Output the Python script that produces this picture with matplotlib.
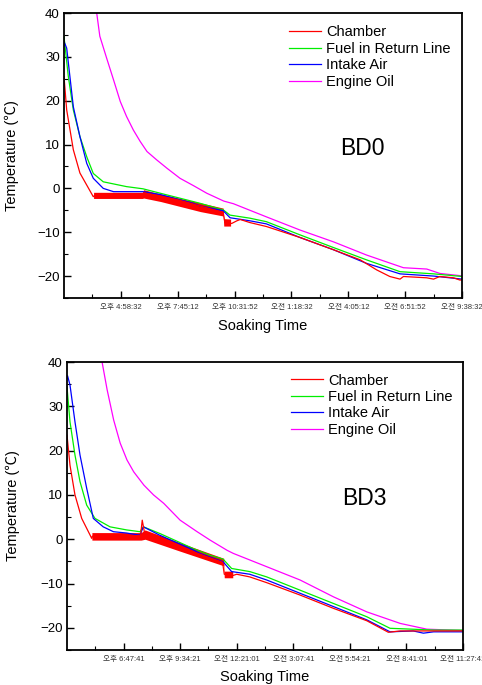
import numpy as np
import matplotlib
matplotlib.use('Agg')
import matplotlib.pyplot as plt

plt.rcParams['font.family'] = ['Liberation Sans', 'Noto Sans CJK KR', 'DejaVu Sans']

# elapsed soaking time in kiloseconds, temperatures in deg C
# ---- BD0 ----
bd0_chamber_t = [0, 0.47, 1.64, 2.8, 5.15, 5.5, 13.9, 14.0, 20.0, 25.0, 28.0, 28.3, 29.5,
                 30.4, 31.0, 32.7, 35.6, 41.5, 47.4, 52.1, 55.0, 57.3, 59.1, 59.7,
                 63.8, 65.0, 66.1, 68.5, 69.6, 70.0]
bd0_chamber = [25.5, 17.9, 8.8, 3.5, -1.9, -1.5, -1.5, -1.0, -2.6, -4.4, -5.5, -7.8, -8.0,
               -7.4, -7.1, -7.8, -8.7, -11.2, -14.0, -16.3, -18.6, -20.1, -20.7, -20.1,
               -20.4, -20.7, -20.1, -20.4, -20.9, -20.9]
bd0_band_t = [5.2, 13.8, 14.0, 17.0, 24.0, 28.0, 28.1, 29.3]
bd0_band_hi = [-0.9, -0.9, -0.3, -1.3, -3.3, -4.5, -6.9, -7.0]
bd0_band_lo = [-2.3, -2.3, -2.2, -3.0, -5.3, -6.3, -8.6, -8.6]

bd0_fuel_t = [0, 0.76, 1.64, 2.8, 4.0, 5.15, 6.9, 11.0, 13.9, 16.9, 22.7, 23.9, 28.0,
              29.2, 32.7, 35.6, 41.5, 47.4, 53.2, 59.1, 65.0, 70.0]
bd0_fuel = [34.6, 25.5, 17.9, 11.8, 7.2, 3.4, 1.5, 0.4, -0.1, -1.1, -3.0, -3.4, -4.9,
            -6.1, -6.8, -7.6, -10.6, -13.5, -16.3, -19.0, -19.5, -20.1]

bd0_intake_t = [0, 0.47, 1.64, 2.8, 4.0, 5.15, 6.9, 8.7, 13.9, 16.9, 22.7, 23.9, 28.0,
                29.2, 32.7, 35.6, 41.5, 47.4, 53.2, 59.1, 65.0, 70.0]
bd0_intake = [33.5, 32.0, 18.6, 11.8, 5.7, 2.3, 0.0, -0.75, -0.75, -1.4, -3.4, -4.0, -5.1,
              -6.7, -7.4, -8.1, -11.2, -14.0, -17.1, -19.5, -20.0, -20.7]

bd0_oil_t = [5.0, 5.75, 6.3, 7.5, 8.7, 9.9, 11.0, 12.2, 13.4, 14.6, 16.3, 18.1, 20.4,
             22.8, 25.1, 28.1, 29.8, 35.6, 41.5, 47.4, 53.2, 59.7, 63.8, 66.1, 69.6, 70.0]
bd0_oil = [45.0, 40.0, 34.7, 29.7, 24.8, 19.8, 16.4, 13.3, 10.7, 8.4, 6.5, 4.6, 2.3,
           0.6, -1.1, -2.9, -3.5, -6.5, -9.5, -12.2, -15.2, -18.1, -18.4, -19.4, -19.9, -20.0]

# ---- BD3 ----
bd3_chamber_t = [0, 0.53, 1.41, 2.6, 4.37, 4.5, 13.0, 13.3, 13.7, 14.0, 20.0, 27.5, 27.8,
                 29.3, 30.0, 32.3, 35.3, 41.2, 47.1, 53.0, 56.8, 58.9, 70.0]
bd3_chamber = [23.5, 16.7, 10.0, 4.7, 0.2, 0.7, 0.8, 4.3, 1.5, 1.0, -1.8, -5.2, -7.9,
               -8.2, -7.9, -8.5, -9.8, -12.6, -15.6, -18.4, -21.0, -20.7, -20.7]
bd3_band_t = [4.4, 13.1, 13.8, 20.0, 27.7, 27.8, 29.3]
bd3_band_hi = [1.5, 1.5, 2.1, -0.8, -4.3, -7.2, -7.2]
bd3_band_lo = [-0.2, -0.2, 0.0, -2.7, -6.0, -8.7, -8.7]

bd3_fuel_t = [0, 0.53, 1.41, 2.3, 3.48, 4.95, 7.6, 10.55, 12.9, 13.5, 16.4, 22.3, 25.3,
              27.6, 29.1, 32.3, 35.3, 41.2, 47.1, 53.0, 57.1, 64.8, 70.0]
bd3_fuel = [34.4, 26.5, 19.0, 13.0, 7.7, 4.7, 2.8, 2.1, 1.7, 2.8, 1.3, -2.1, -3.6,
            -4.5, -6.6, -7.3, -8.5, -11.5, -14.5, -17.5, -20.1, -20.5, -20.5]

bd3_intake_t = [0, 0.1, 0.53, 1.41, 2.3, 3.48, 4.65, 6.4, 8.2, 10.55, 12.9, 13.5, 16.4,
                22.3, 23.5, 27.6, 29.1, 32.3, 35.3, 41.2, 47.1, 53.0, 57.1, 61.2,
                63.0, 64.8, 70.0]
bd3_intake = [36.3, 36.9, 34.8, 26.5, 19.0, 11.5, 4.7, 2.8, 1.7, 1.4, 0.9, 2.8, 0.9,
              -2.4, -3.2, -5.1, -7.3, -7.9, -9.2, -12.2, -15.2, -18.2, -20.9, -20.7,
              -21.2, -20.9, -20.9]

bd3_oil_t = [5.4, 6.2, 7.1, 8.25, 9.4, 10.6, 11.8, 13.6, 15.3, 17.1, 20.0, 23.0, 25.3,
             28.3, 29.4, 35.3, 41.2, 47.1, 53.0, 58.9, 63.6, 70.0]
bd3_oil = [45.0, 40.0, 33.7, 26.9, 21.7, 17.9, 15.2, 12.2, 10.0, 8.1, 4.3, 1.7, -0.2,
           -2.5, -3.2, -6.2, -9.2, -13.0, -16.4, -19.0, -20.3, -20.6]

bd0_ticks = ['오후 4:58:32', '오후 7:45:12', '오후 10:31:52', '오전 1:18:32',
             '오전 4:05:12', '오전 6:51:52', '오전 9:38:32']
bd3_ticks = ['오후 6:47:41', '오후 9:34:21', '오전 12:21:01', '오전 3:07:41',
             '오전 5:54:21', '오전 8:41:01', '오전 11:27:41']

series_names = ['Chamber', 'Fuel in Return Line', 'Intake Air', 'Engine Oil']
colors = ['#ff0000', '#00ee00', '#0000ff', '#ff00ff']


def draw_panel(ax, data, band, ticks, tag, ylab_x, xlab_y, leg_y):
    chamber, fuel, intake, oil = data
    h_oil, = ax.plot(oil[0], oil[1], color=colors[3], lw=0.9)
    h_fuel, = ax.plot(fuel[0], fuel[1], color=colors[1], lw=0.9)
    h_int, = ax.plot(intake[0], intake[1], color=colors[2], lw=0.9)
    h_ch, = ax.plot(chamber[0], chamber[1], color=colors[0], lw=0.9)
    ax.fill_between(band[0], band[1], band[2], color=colors[0], lw=0)

    ax.set_xlim(0, 70)
    ax.set_ylim(-25, 40)
    ax.set_yticks([-20, -10, 0, 10, 20, 30, 40])
    ax.set_yticks(np.arange(-25, 41, 5), minor=True)
    ax.set_xticks(np.arange(10, 71, 10))
    ax.set_xticklabels(ticks, fontsize=5.5, color='#333333')
    ax.set_xticks(np.arange(5, 70, 5), minor=True)
    ax.tick_params(axis='both', which='major', direction='in', length=5, width=1)
    ax.tick_params(axis='both', which='minor', direction='in', length=3, width=0.8)
    ax.tick_params(axis='y', labelsize=9.5, pad=3)
    ax.tick_params(axis='x', pad=4)
    for s in ax.spines.values():
        s.set_linewidth(1.3)

    ax.set_xlabel('Soaking Time', fontsize=10.5)
    ax.set_ylabel('Temperature (℃)', fontsize=10.5)
    ax.yaxis.set_label_coords(ylab_x, 0.5)
    ax.xaxis.set_label_coords(0.5, xlab_y)

    ax.legend([h_ch, h_fuel, h_int, h_oil], series_names, loc='upper left',
              bbox_to_anchor=(0.565, leg_y), frameon=False, fontsize=10.5,
              handlelength=2.2, handletextpad=0.35, labelspacing=0.17,
              borderaxespad=0, borderpad=0)
    ax.text(0.75, 0.525, tag, transform=ax.transAxes, fontsize=16.5,
            ha='center', va='center')


fig = plt.figure(figsize=(4.82, 6.85), dpi=100)
ax1 = fig.add_axes([0.1328, 0.565, 0.8257, 0.416])
ax2 = fig.add_axes([0.139, 0.0511, 0.8216, 0.4204])

draw_panel(ax1,
           [(bd0_chamber_t, bd0_chamber), (bd0_fuel_t, bd0_fuel),
            (bd0_intake_t, bd0_intake), (bd0_oil_t, bd0_oil)],
           (bd0_band_t, bd0_band_lo, bd0_band_hi), bd0_ticks, 'BD0',
           -0.112, -0.074, 0.957)
draw_panel(ax2,
           [(bd3_chamber_t, bd3_chamber), (bd3_fuel_t, bd3_fuel),
            (bd3_intake_t, bd3_intake), (bd3_oil_t, bd3_oil)],
           (bd3_band_t, bd3_band_lo, bd3_band_hi), bd3_ticks, 'BD3',
           -0.118, -0.069, 0.96)

fig.savefig('out.png', dpi=100)
